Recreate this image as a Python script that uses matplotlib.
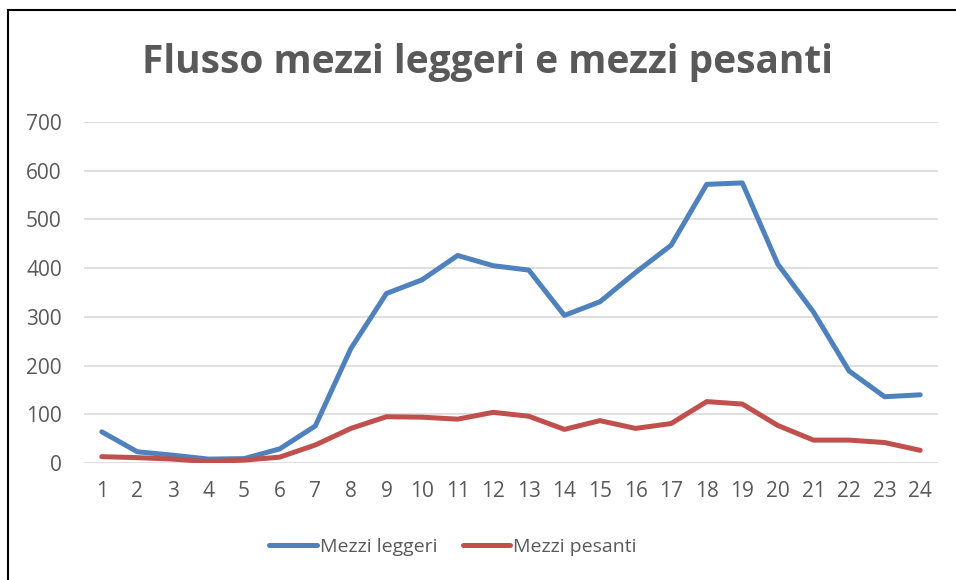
import numpy as np
import matplotlib
matplotlib.use('Agg')
import matplotlib.pyplot as plt
from matplotlib.lines import Line2D

# data (vehicles per hour)
ore = list(range(1, 25))
mezzi_leggeri = [64, 23, 16, 8, 9, 29, 76, 235, 348, 376, 426, 405, 396, 303,
                 331, 391, 447, 572, 575, 408, 310, 189, 136, 140]
mezzi_pesanti = [13, 11, 8, 3, 6, 12, 37, 71, 95, 94, 90, 104, 96, 69,
                 87, 71, 81, 126, 121, 77, 47, 47, 42, 26]
y_ticks = [0, 100, 200, 300, 400, 500, 600, 700]

plt.rcParams['font.family'] = ['Open Sans', 'DejaVu Sans']
grey_text = '#595959'

fig = plt.figure(figsize=(9.56, 5.8), dpi=100)
ax = fig.add_axes([84/956, 1-463/580, (938-84)/956, (463-122)/580])

ax.plot(ore, mezzi_leggeri, color='#4F81BD', lw=3.6, label='Mezzi leggeri',
        solid_capstyle='round', solid_joinstyle='round', zorder=3)
ax.plot(ore, mezzi_pesanti, color='#C0504D', lw=3.6, label='Mezzi pesanti',
        solid_capstyle='round', solid_joinstyle='round', zorder=3)

ax.set_xlim(0.5, 24.5)
ax.set_ylim(0, 700)
ax.set_xticks(ore)
ax.set_yticks(y_ticks)
ax.grid(axis='y', color='#D9D9D9', lw=1.2)
ax.set_axisbelow(True)
for s in ax.spines.values():
    s.set_visible(False)
ax.tick_params(length=0, labelsize=15, labelcolor=grey_text)
ax.tick_params(axis='y', pad=16)
ax.tick_params(axis='x', pad=13)

fig.text(0.51, 1-62/580, 'Flusso mezzi leggeri e mezzi pesanti', ha='center',
         va='center', fontsize=28, fontweight='bold', color=grey_text)

fig.legend(loc='center', bbox_to_anchor=(0.474, 1-547/580), ncol=2, frameon=False,
           fontsize=14, handlelength=2.45, handletextpad=0.15, columnspacing=1.3,
           labelcolor=grey_text)

# outer frame (left and top edges visible in the original)
fig.add_artist(Line2D([8/956, 8/956], [0, 1-10/580], color='black', lw=1.5,
                      transform=fig.transFigure))
fig.add_artist(Line2D([8/956, 1], [1-10/580, 1-10/580], color='black', lw=1.5,
                      transform=fig.transFigure))

fig.savefig('out.png', dpi=100)
